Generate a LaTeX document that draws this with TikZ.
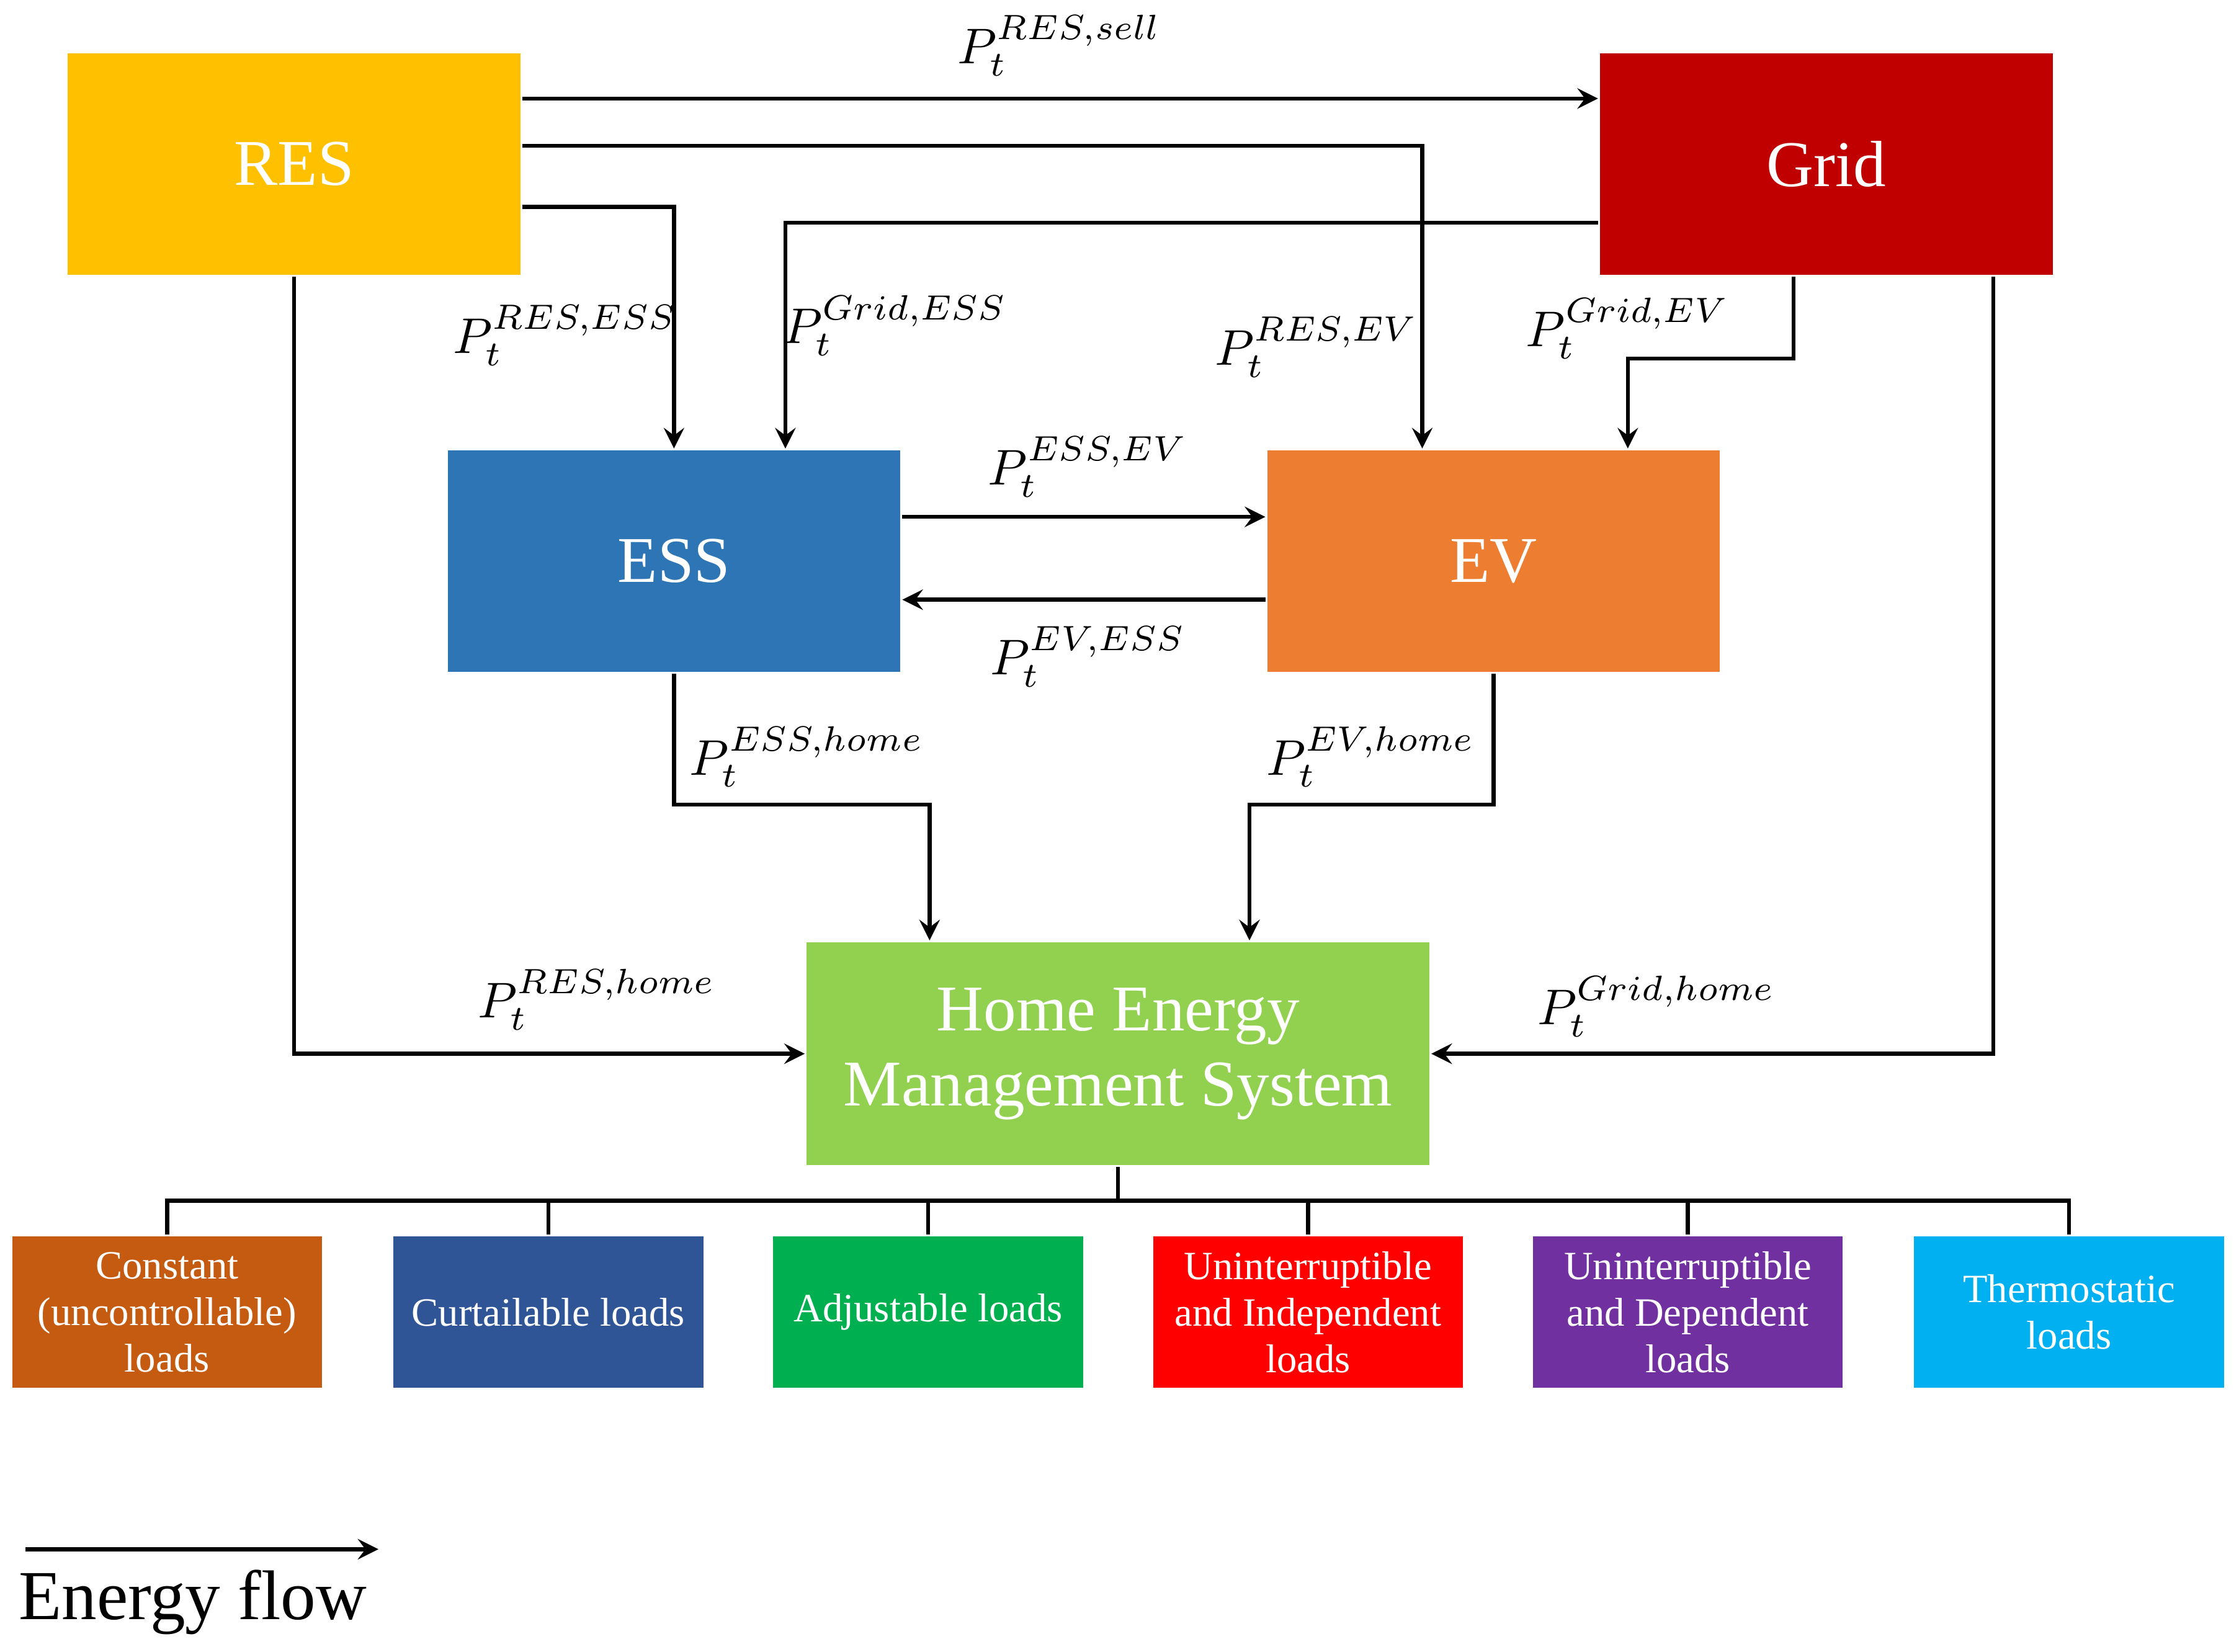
\documentclass[tikz,border=0pt]{standalone}
\usepackage{fontspec}
\setmainfont{Liberation Serif}
\usetikzlibrary{calc}
\begin{document}
\begin{tikzpicture}[x=0.1mm, y=-0.1mm, thick]
  \tikzstyle{boite}=[draw=none, minimum width=31.7mm, minimum height=15.5mm, text=white, font=\fontsize{13}{15}\selectfont];
  \tikzstyle{charge}=[draw=none, minimum width=21.7mm, minimum height=10.6mm, text=white, align=center, font=\fontsize{8}{9.3}\selectfont, inner sep=1pt];
  \tikzstyle{fleche}=[->, >=stealth];
  \tikzstyle{ligne}=[-];
  \tikzstyle{puiss}=[font=\normalsize];

  \useasboundingbox (0,0) rectangle (1568,1157);

  \node[boite, fill={rgb,255:red,255;green,192;blue,0}] (RES) at (206,115) {RES};
  \node[boite, fill={rgb,255:red,192;green,0;blue,0}] (Grid) at (1279,115) {Grid};
  \node[boite, fill={rgb,255:red,46;green,117;blue,182}] (ESS) at (472,393) {ESS};
  \node[boite, fill={rgb,255:red,237;green,125;blue,49}] (EV) at (1046,393) {EV};
  \node[boite, fill={rgb,255:red,146;green,208;blue,80}, minimum width=43.6mm, minimum height=15.6mm, align=center] (HEMS) at (783,738) {Home Energy\\Management System};

  \node[charge, fill={rgb,255:red,197;green,90;blue,17}] (L1) at (117,919) {Constant\\(uncontrollable)\\loads};
  \node[charge, fill={rgb,255:red,47;green,85;blue,151}] (L2) at (384,919) {Curtailable loads};
  \node[charge, fill={rgb,255:red,0;green,176;blue,80}] (L3) at (650,919) {Adjustable loads};
  \node[charge, fill={rgb,255:red,255;green,0;blue,0}] (L4) at (916,919) {Uninterruptible\\and Independent\\loads};
  \node[charge, fill={rgb,255:red,112;green,48;blue,160}] (L5) at (1182,919) {Uninterruptible\\and Dependent\\loads};
  \node[charge, fill={rgb,255:red,0;green,176;blue,240}] (L6) at (1449,919) {Thermostatic\\loads};

  \coordinate (bus) at (783,841);

  \draw[fleche] ($(RES.east)+(0,-46)$) -- ($(Grid.west)+(0,-46)$);
  \draw[fleche] ($(RES.east)+(0,-13)$) -| ($(EV.north)+(-50,0)$);
  \draw[fleche] ($(RES.east)+(0,30)$) -| (ESS.north);
  \draw[fleche] ($(Grid.west)+(0,41)$) -| ($(ESS.north)+(78,0)$);
  \draw[fleche] ($(Grid.south)+(-23,0)$) |- ($(EV.north)+(94,-63)$) -- ($(EV.north)+(94,0)$);
  \draw[fleche] ($(ESS.east)+(0,-31)$) -- ($(EV.west)+(0,-31)$);
  \draw[fleche] ($(EV.west)+(0,27)$) -- ($(ESS.east)+(0,27)$);
  \draw[fleche] (ESS.south) |- ($(HEMS.north)+(-132,-95)$) -- ($(HEMS.north)+(-132,0)$);
  \draw[fleche] (EV.south) |- ($(HEMS.north)+(92,-95)$) -- ($(HEMS.north)+(92,0)$);
  \draw[fleche] (RES.south) |- (HEMS.west);
  \draw[fleche] ($(Grid.south)+(117,0)$) |- (HEMS.east);

  \node[puiss] (lRS) at (742,32) {$P_t^{RES,sell}$};
  \node[puiss] (lRE) at (396,235) {$P_t^{RES,ESS}$};
  \node[puiss] (lGS) at (627,228) {$P_t^{Grid,ESS}$};
  \node[puiss] (lRV) at (922,243) {$P_t^{RES,EV}$};
  \node[puiss] (lGE) at (1140,230) {$P_t^{Grid,EV}$};
  \node[puiss] (lSV) at (762,327) {$P_t^{ESS,EV}$};
  \node[puiss] (lVS) at (762,460) {$P_t^{EV,ESS}$};
  \node[puiss] (lEH) at (565,530) {$P_t^{ESS,home}$};
  \node[puiss] (lVH) at (960,530) {$P_t^{EV,home}$};
  \node[puiss] (lRH) at (418,700) {$P_t^{RES,home}$};
  \node[puiss] (lGH) at (1160,705) {$P_t^{Grid,home}$};

  \draw[ligne] (HEMS.south) -- (bus);
  \draw[ligne] (L1.north) |- (bus) -| (L6.north);
  \draw[ligne] (L2.north) -- (L2.north |- bus);
  \draw[ligne] (L3.north) -- (L3.north |- bus);
  \draw[ligne] (L4.north) -- (L4.north |- bus);
  \draw[ligne] (L5.north) -- (L5.north |- bus);

  \coordinate (legA) at (18,1085);
  \coordinate (legB) at (265,1085);
  \draw[fleche] (legA) -- (legB);
  \node[font=\fontsize{14}{17}\selectfont] (leg) at (135,1122) {Energy flow};
\end{tikzpicture}
\end{document}
